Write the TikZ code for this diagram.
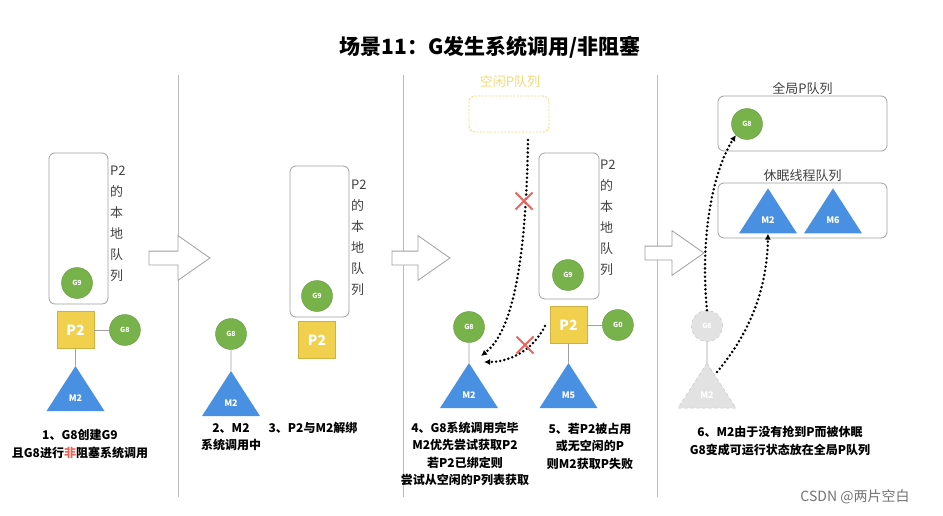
\documentclass[tikz,border=0pt]{standalone}
\usepackage{fontspec}
\setmainfont{Noto Sans CJK SC}
\usetikzlibrary{positioning, shapes.geometric, shapes.arrows, shapes.misc, arrows.meta}
\definecolor{ggreen}{HTML}{78B24A}
\definecolor{pyellow}{HTML}{F1D04D}
\definecolor{mblue}{HTML}{4A90E2}
\definecolor{lgray}{HTML}{A0A0A0}
\definecolor{xred}{HTML}{E8675C}
\definecolor{idle}{HTML}{F2DA78}
\definecolor{ghost}{HTML}{E2E2E2}

\begin{document}
\begin{tikzpicture}[x=1pt, y=-1pt]
    \tikzstyle{every node}=[font=\small]
    \tikzstyle{gnode}=[circle, fill=ggreen, draw=ggreen!85!black, minimum size=31pt, inner sep=0pt, text=white, font=\fontsize{7}{8}\selectfont\bfseries]
    \tikzstyle{pnode}=[rectangle, fill=pyellow, draw=pyellow!85!black, minimum size=37pt, inner sep=0pt, text=white, font=\fontsize{14}{16}\selectfont\bfseries]
    \tikzstyle{mnode}=[isosceles triangle, isosceles triangle apex angle=66, shape border rotate=90, isosceles triangle stretches, minimum width=58pt, minimum height=45pt, inner sep=0pt, fill=mblue, text=white, font=\fontsize{9}{10}\selectfont\bfseries]
    \tikzstyle{queue}=[draw=lgray, rounded corners=6pt, line width=0.8pt]
    \tikzstyle{vlabel}=[align=left, font=\fontsize{13}{21}\selectfont, anchor=north west, inner sep=0pt, text=black!75]
    \tikzstyle{note}=[align=center, font=\fontsize{12}{17.5}\selectfont\bfseries]
    \tikzstyle{qlabel}=[font=\fontsize{13}{15}\selectfont, text=black!75, inner sep=1pt]
    \tikzstyle{bigarrow}=[single arrow, draw=lgray, line width=0.8pt, fill=white, minimum width=44pt, single arrow head extend=15.5pt, single arrow tip angle=70, inner xsep=0pt, inner ysep=6.5pt]
    \tikzstyle{walk}=[line width=2.8pt, dash pattern=on 0pt off 4.2pt, line cap=round, -{Latex[length=6pt,width=6pt]}]
    \tikzstyle{fail}=[cross out, draw=xred, line width=2pt, minimum size=15pt, inner sep=0pt]
    \tikzstyle{link}=[draw=lgray, line width=0.8pt]

    \useasboundingbox (0,0) rectangle (943,516);

    \node (title) [font=\fontsize{21}{24}\selectfont\bfseries] at (490,47) {场景11：G发生系统调用/非阻塞};

    % separators
    \draw [lgray!70] (178,75) -- (178,497);
    \draw [lgray!70] (403,75) -- (403,497);
    \draw [lgray!70] (657,75) -- (657,497);

    % 1
    \node (q1)    [queue, minimum width=59pt, minimum height=151pt] at (78.5,228.5) {};
    \node (lab1)  [vlabel] at (110,166) {P2\\的\\本\\地\\队\\列};
    \node (g9a)   [gnode] at (77,283) {G9};
    \node (p2a)   [pnode] at (75.5,330) {P2};
    \node (g8a)   [gnode, right=15pt of p2a] {G8};
    \node (m2a)   [mnode, below=17pt of p2a] {M2};
    \node (note1) [note] at (80,444) {1、G8创建G9\\且G8进行\textcolor{xred}{非}阻塞系统调用};
    \draw [link] (p2a) -- (g8a);
    \draw [link] (p2a) -- (m2a.apex);

    \node (arr1)  [bigarrow, minimum height=61pt] at (174.5,258) {};

    % 2, 3
    \node (g8b)   [gnode] at (231,334) {G8};
    \node (m2b)   [mnode, below=21pt of g8b] {M2};
    \node (note2) [note] at (231,437) {2、M2\\系统调用中};
    \draw [link] (g8b) -- (m2b.apex);
    \node (q2)    [queue, minimum width=59pt, minimum height=151pt] at (319.5,241.5) {};
    \node (lab2)  [vlabel] at (351,180) {P2\\的\\本\\地\\队\\列};
    \node (g9b)   [gnode] at (317,296) {G9};
    \node (p2b)   [pnode] at (317,340) {P2};
    \node (note3) [note] at (313,428) {3、P2与M2解绑};

    \node (arr2)  [bigarrow, minimum height=58pt] at (416,258) {};

    % 4, 5
    \node (idlelab) [qlabel, text=idle] at (510,82) {空闲P队列};
    \node (idle)  [draw=idle, dash pattern=on 2pt off 1.5pt, line width=0.9pt, rounded corners=6pt, minimum width=80pt, minimum height=36pt] at (509,114) {};
    \node (q3)    [queue, minimum width=60pt, minimum height=146pt] at (569,226) {};
    \node (lab3)  [vlabel] at (600,160) {P2\\的\\本\\地\\队\\列};
    \node (g9c)   [gnode] at (568,275) {G9};
    \node (p2c)   [pnode] at (568.5,325) {P2};
    \node (g0c)   [gnode, right=15pt of p2c] {G0};
    \node (m5c)   [mnode, below=19pt of p2c] {M5};
    \node (g8c)   [gnode] at (469,327) {G8};
    \node (m2c)   [mnode, below=20pt of g8c] {M2};
    \draw [link] (p2c) -- (g0c);
    \draw [link] (p2c) -- (m5c.apex);
    \draw [link] (g8c) -- (m2c.apex);
    \coordinate (idle out) at (528,140);
    \coordinate (m2c in)   at (481,356);
    \coordinate (p2c out)  at (545,326);
    \coordinate (m2c in2)  at (484,362);
    \draw [walk] (idle out) .. controls (526,265) and (512,332) .. (m2c in);
    \draw [walk] (p2c out) .. controls (532,352) and (508,362) .. (m2c in2);
    \node (x1)    [fail] at (524,201) {};
    \node (x2)    [fail] at (525,345) {};
    \node (note4) [note] at (465,454) {4、G8系统调用完毕\\M2优先尝试获取P2\\若P2已绑定则\\尝试从空闲的P列表获取};
    \node (note5) [note] at (590,446) {5、若P2被占用\\或无空闲的P\\则M2获取P失败};

    \node (arr3)  [bigarrow, minimum height=59pt] at (669.5,253) {};

    % 6
    \node (gq)    [queue, minimum width=169pt, minimum height=55pt] at (802.5,123.5) {};
    \node (gqlab) [qlabel, above=0pt of gq] {全局P队列};
    \node (g8e)   [gnode] at (747,124) {G8};
    \node (sq)    [queue, minimum width=169pt, minimum height=55pt] at (802.5,210.5) {};
    \node (sqlab) [qlabel, above=0pt of sq] {休眠线程队列};
    \node (m2e)   [mnode, anchor=apex] at (768,188) {M2};
    \node (m6e)   [mnode, anchor=apex] at (833,188) {M6};
    \node (g8d)   [gnode, fill=ghost, draw=lgray!70, dashed] at (707,326) {G8};
    \node (m2d)   [mnode, fill=ghost, draw=lgray!70, dashed, below=21pt of g8d] {M2};
    \draw [link] (g8d) -- (m2d.apex);
    \coordinate (m2d out) at (717,372);
    \draw [walk] (g8d.north) .. controls (700,240) and (712,172) .. (g8e.south west);
    \draw [walk] (m2d out) .. controls (748,335) and (767,292) .. (m2e.south);
    \node (note6) [note] at (780,441) {6、M2由于没有抢到P而被休眠\\G8变成可运行状态放在全局P队列};

    \node (mark)  [font=\fontsize{14}{16}\selectfont, text=black!55] at (855,497) {CSDN @两片空白};
\end{tikzpicture}
\end{document}
